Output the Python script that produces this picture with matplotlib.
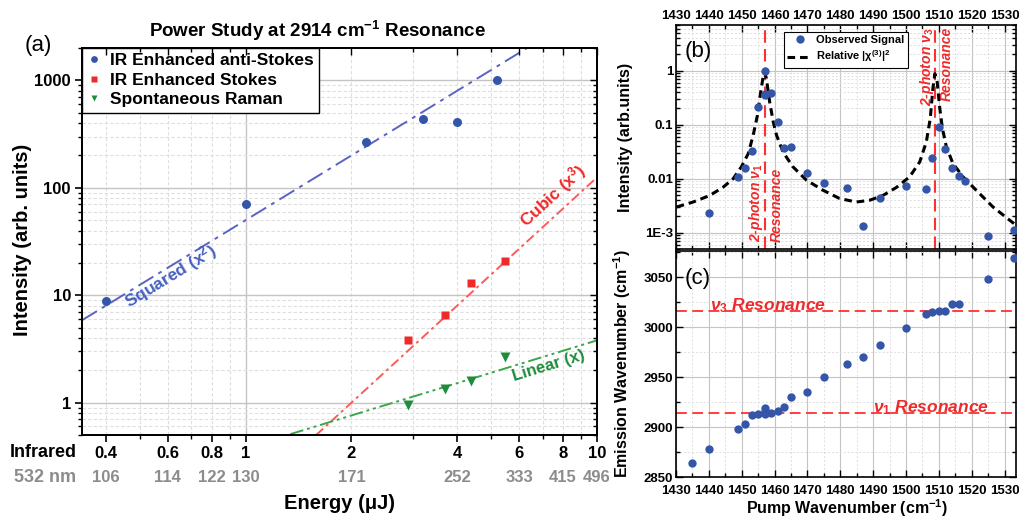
import numpy as np
import matplotlib
matplotlib.use('Agg')
import matplotlib.pyplot as plt
import matplotlib.transforms as mtransforms
from matplotlib.ticker import FixedLocator, NullFormatter, LogLocator, MultipleLocator

plt.rcParams['font.family'] = ['Liberation Sans', 'DejaVu Sans']
plt.rcParams['font.weight'] = 'bold'
plt.rcParams['mathtext.fontset'] = 'custom'
plt.rcParams['mathtext.rm'] = 'Liberation Sans:bold'
plt.rcParams['mathtext.it'] = 'Liberation Sans:italic:bold'
plt.rcParams['mathtext.bf'] = 'Liberation Sans:bold'
plt.rcParams['axes.linewidth'] = 1.2

# ---------------- data: panel (a) ----------------
energy_as = [0.40, 1.00, 2.20, 3.20, 4.00, 5.18]
int_as = [8.8, 70, 268, 435, 411, 1000]
energy_st = [2.90, 3.69, 4.39, 5.48]
int_st = [3.83, 6.6, 13.1, 20.9]
energy_sr = [2.90, 3.69, 4.39, 5.48]
int_sr = [0.95, 1.34, 1.60, 2.68]
fit_names = ['Squared (x$^2$)', 'Cubic (x$^3$)', 'Linear (x)']
fit_amp = [50.0, 0.125, 0.38]
fit_exp = [2, 3, 1]
ir_ticks = [0.4, 0.6, 0.8, 1, 2, 4, 6, 8, 10]
ir_labels = ['0.4', '0.6', '0.8', '1', '2', '4', '6', '8', '10']
nm_labels = ['106', '114', '122', '130', '171', '252', '333', '415', '496']
int_ticks = [1, 10, 100, 1000]
int_labels = ['1', '10', '100', '1000']

# ---------------- data: panel (b) ----------------
pump_b = [1440, 1449, 1451, 1453, 1455, 1457, 1457, 1457, 1459, 1461, 1463, 1465,
          1470, 1475, 1482, 1487, 1492, 1500, 1506, 1508, 1510, 1512, 1514, 1516,
          1518, 1525, 1533]
signal_b = [0.00232, 0.0106, 0.0161, 0.0328, 0.215, 1.0, 0.37, 0.354, 0.38, 0.11,
            0.0373, 0.0384, 0.0128, 0.0082, 0.00685, 0.00133, 0.00447, 0.00724,
            0.00646, 0.024, 0.089, 0.0352, 0.0161, 0.0114, 0.0092, 0.00088, 0.00114]
chi_pump = [1430.2, 1435.2, 1440.3, 1444.4, 1447.4, 1449.9, 1452.0, 1453.5, 1454.8,
            1455.8, 1456.7, 1457.0, 1457.5, 1458.5, 1459.6, 1460.6, 1462.6, 1465.6,
            1469.7, 1474.8, 1479.8, 1484.9, 1489.0, 1493.0, 1497.1, 1501.1, 1504.2,
            1506.2, 1507.4, 1508.2, 1508.8, 1509.5, 1510.3, 1511.1, 1512.3, 1514.3,
            1517.4, 1521.4, 1526.5, 1531.6, 1533.6]
chi_rel = [0.0030, 0.0037, 0.0049, 0.0070, 0.0100, 0.0166, 0.0292, 0.064, 0.150,
           0.41, 0.90, 0.93, 0.72, 0.266, 0.113, 0.064, 0.031, 0.0166, 0.0094,
           0.0061, 0.0043, 0.0037, 0.0040, 0.0049, 0.0069, 0.0108, 0.0205, 0.048,
           0.13, 0.47, 0.88, 0.62, 0.20, 0.085, 0.039, 0.0191, 0.0108, 0.0061,
           0.0030, 0.0017, 0.00137]
res_pump = [1457.0, 1508.8]
b_yticks = [1e-3, 1e-2, 1e-1, 1]
b_ylabels = ['1E-3', '0.01', '0.1', '1']

# ---------------- data: panel (c) ----------------
pump_c = [1435, 1440, 1449, 1451, 1453, 1455, 1457, 1457, 1457, 1459, 1461, 1463,
          1465, 1470, 1475, 1482, 1487, 1492, 1500, 1506, 1508, 1510, 1512, 1514,
          1516, 1525, 1533]
emission_c = [2864, 2878, 2898, 2903, 2912, 2913, 2913, 2916.5, 2919.5, 2914.5,
              2916.5, 2920, 2930.5, 2935, 2950.5, 2963, 2970, 2982, 2999, 3013.5,
              3015, 3016, 3016, 3023, 3023, 3048, 3069]
res_emission = [2914, 3016]

# ---------------- styling ----------------
BLUE = '#3556A8'
RED = '#EE2A2A'
GREEN = '#1E8C3A'
fit_line_colors = ['#5A62C4', '#FF5A5A', '#3AA64A']
fit_text_colors = ['#4560C0', '#F02828', '#1E8C3A']
fit_styles = [(0, (9, 3, 2, 3)), (0, (5, 2, 1.5, 2)), (0, (7, 2, 1.5, 2, 1.5, 2))]
GRIDMAJ = '#c4c4c4'
GRIDMIN = '#dedede'

fig = plt.figure(figsize=(10.19, 5.17), dpi=100)

# ======================= panel (a) =======================
axA = fig.add_axes([82 / 1019, 1 - 435 / 517, 515 / 1019, 387 / 517])
axA.set_xscale('log')
axA.set_yscale('log')
axA.set_xlim(0.342, 10)
axA.set_ylim(0.5, 2000)

# grid
xminor_grid = [0.4, 0.5, 0.6, 0.7, 0.8, 0.9, 2, 3, 4, 5, 6, 7, 8, 9]
for v in xminor_grid:
    axA.axvline(v, color=GRIDMIN, lw=0.8, ls=(0, (3, 2)), zorder=0)
axA.axvline(1, color=GRIDMAJ, lw=1.0, zorder=0)
for dec in [0.1, 1, 10, 100, 1000]:
    for k in range(2, 10):
        axA.axhline(k * dec, color=GRIDMIN, lw=0.8, ls=(0, (3, 2)), zorder=0)
for v in int_ticks:
    axA.axhline(v, color=GRIDMAJ, lw=1.0, zorder=0)

# fits
xx = np.geomspace(0.342, 10, 200)
fit_text_pos = [(0.61, 15.0), (7.5, 85), (7.3, 2.2)]
fit_fs = [12.5, 12.5, 12]
for i in range(3):
    yy = fit_amp[i] * xx ** fit_exp[i]
    axA.plot(xx, yy, color=fit_line_colors[i], lw=1.4, ls=fit_styles[i], zorder=2)
    p1 = axA.transData.transform((1.0, fit_amp[i]))
    p2 = axA.transData.transform((10.0, fit_amp[i] * 10 ** fit_exp[i]))
    ang = np.degrees(np.arctan2(p2[1] - p1[1], p2[0] - p1[0]))
    axA.text(fit_text_pos[i][0], fit_text_pos[i][1], fit_names[i], rotation=ang,
             rotation_mode='anchor', ha='center', va='center', color=fit_text_colors[i],
             fontsize=fit_fs[i], fontweight='bold', zorder=3)

axA.plot(energy_as, int_as, 'o', color=BLUE, ms=6.5, mec='none', zorder=4,
         label='IR Enhanced anti-Stokes')
axA.plot(energy_st, int_st, 's', color=RED, ms=5.5, mec='none', zorder=4,
         label='IR Enhanced Stokes')
axA.plot(energy_sr, int_sr, 'v', color=GREEN, ms=6.5, mec='none', zorder=4,
         label='Spontaneous Raman')

axA.set_xticks(ir_ticks, ir_labels)
axA.xaxis.set_minor_locator(FixedLocator([0.5, 0.7, 0.9, 3, 5, 7, 9]))
axA.xaxis.set_minor_formatter(NullFormatter())
axA.set_yticks(int_ticks, int_labels)
axA.yaxis.set_minor_locator(LogLocator(base=10, subs=np.arange(2, 10)))
axA.yaxis.set_minor_formatter(NullFormatter())
axA.tick_params(which='major', direction='out', length=5, width=1.2, labelsize=12, pad=3)
axA.tick_params(which='minor', direction='out', length=3, width=1.0)

# top / right ticks (inward)
axT = axA.twiny()
axT.set_xscale('log')
axT.set_xlim(axA.get_xlim())
axT.set_xticks(ir_ticks)
axT.xaxis.set_minor_locator(FixedLocator([0.5, 0.7, 0.9, 3, 5, 7, 9]))
axT.tick_params(which='both', direction='in', labeltop=False, width=1.0)
axT.tick_params(which='major', length=5)
axT.tick_params(which='minor', length=3)
axR = axA.twinx()
axR.set_yscale('log')
axR.set_ylim(axA.get_ylim())
axR.set_yticks(int_ticks)
axR.yaxis.set_minor_locator(LogLocator(base=10, subs=np.arange(2, 10)))
axR.tick_params(which='both', direction='in', labelright=False, width=1.0)
axR.tick_params(which='major', length=5)
axR.tick_params(which='minor', length=3)

# secondary (532 nm) label row
blend = mtransforms.blended_transform_factory(axA.transData, axA.transAxes)
for x, lab in zip(ir_ticks, nm_labels):
    axA.text(x, -0.111, lab, transform=blend, ha='center', va='center',
             color='#8c8c8c', fontsize=12, fontweight='bold')
axA.text(-0.076, -0.0465, 'Infrared', transform=axA.transAxes, ha='center', va='center',
         fontsize=13, fontweight='bold', color='black')
axA.text(-0.072, -0.111, '532 nm', transform=axA.transAxes, ha='center', va='center',
         fontsize=13, fontweight='bold', color='#8c8c8c')
axA.text(0.5, -0.177, 'Energy (\u03bcJ)', transform=axA.transAxes, ha='center',
         va='center', fontsize=14.5, fontweight='bold')
axA.text(-0.1146, 0.504, 'Intensity (arb. units)', transform=axA.transAxes, ha='center',
         va='center', rotation=90, fontsize=14.5, fontweight='bold')

leg = axA.legend(loc='upper left', bbox_to_anchor=(0.0, 1.0), borderaxespad=0.0,
                 fontsize=12.5, frameon=True, fancybox=False, edgecolor='black',
                 framealpha=1, handlelength=0.8, handletextpad=0.5, labelspacing=0.25,
                 borderpad=0.3, markerscale=0.75)
leg.get_frame().set_linewidth(1.0)
leg.set_zorder(10)

fig.text(317 / 1019, 1 - 31 / 517, 'Power Study at 2914 cm$^{-1}$ Resonance',
         ha='center', va='center', fontsize=13.5, fontweight='bold')
fig.text(38 / 1019, 1 - 45 / 517, '(a)', ha='center', va='center', fontsize=16,
         fontweight='normal')

# ======================= panel (b) =======================
axB = fig.add_axes([676 / 1019, 1 - 249 / 517, 340 / 1019, 224 / 517])
axB.set_yscale('log')
axB.set_xlim(1430, 1533.5)
axB.set_ylim(5e-4, 7)
axB.xaxis.set_major_locator(MultipleLocator(10))
axB.xaxis.set_minor_locator(MultipleLocator(5))
axB.set_yticks(b_yticks, b_ylabels)
axB.yaxis.set_minor_locator(LogLocator(base=10, subs=np.arange(2, 10)))
axB.yaxis.set_minor_formatter(NullFormatter())
axB.grid(which='major', color=GRIDMAJ, lw=0.8)
axB.grid(which='minor', color=GRIDMIN, lw=0.7, ls=(0, (2, 2)))
axB.set_axisbelow(True)
axB.tick_params(which='both', direction='in', top=True, right=True, bottom=True,
                labeltop=True, labelbottom=False, labelsize=9.5, width=1.0, pad=2)
axB.tick_params(which='major', length=5)
axB.tick_params(which='minor', length=3)

for r in res_pump:
    axB.axvline(r, color='#FF3030', lw=1.5, ls=(0, (6, 3)), zorder=2)
axB.plot(chi_pump, chi_rel, color='black', lw=2.2, ls=(0, (2.5, 1.6)), zorder=3,
         label='Relative |\u03c7$^{(3)}$|$^2$')
axB.plot(pump_b, signal_b, 'o', color=BLUE, ms=6, mec='none', zorder=4,
         label='Observed Signal')

blendB = mtransforms.blended_transform_factory(axB.transData, axB.transAxes)
res_txt = dict(rotation=90, ha='center', color=RED, fontsize=10, fontstyle='italic',
               fontweight='bold', transform=blendB)
axB.text(1454.5, 0.03, '2-photon $\\nu_1$', va='bottom', **res_txt)
axB.text(1460.6, 0.03, 'Resonance', va='bottom', **res_txt)
axB.text(1506.4, 0.99, '2-photon $\\nu_3$', va='top', **res_txt)
axB.text(1512.3, 0.99, 'Resonance', va='top', **res_txt)

hB, lB = axB.get_legend_handles_labels()
legB = axB.legend([hB[1], hB[0]], [lB[1], lB[0]], loc='upper left',
                  bbox_to_anchor=(0.318, 0.969), borderaxespad=0.0, fontsize=8,
                  frameon=True, fancybox=False, edgecolor='black', framealpha=1,
                  handlelength=2.2, handletextpad=0.4, labelspacing=0.3, borderpad=0.3)
legB.get_frame().set_linewidth(0.8)
axB.set_ylabel('Intensity (arb.units)', fontsize=11.5, fontweight='bold')
axB.yaxis.set_label_coords(-0.126, 0.5)
axB.text(0.065, 0.88, '(b)', transform=axB.transAxes, ha='center', va='center',
         fontsize=16, fontweight='normal')

# ======================= panel (c) =======================
axC = fig.add_axes([676 / 1019, 1 - 477 / 517, 340 / 1019, 226 / 517])
axC.set_xlim(1430, 1533.5)
axC.set_ylim(2850, 3076)
axC.xaxis.set_major_locator(MultipleLocator(10))
axC.xaxis.set_minor_locator(MultipleLocator(5))
axC.yaxis.set_major_locator(MultipleLocator(50))
axC.yaxis.set_minor_locator(MultipleLocator(25))
axC.grid(which='major', color=GRIDMAJ, lw=0.8)
axC.grid(which='minor', color=GRIDMIN, lw=0.7, ls=(0, (2, 2)))
axC.set_axisbelow(True)
axC.tick_params(which='both', direction='in', top=True, right=True, labelsize=9.5,
                width=1.0, pad=2)
axC.tick_params(axis='x', which='both', pad=6)
axC.tick_params(which='major', length=5)
axC.tick_params(which='minor', length=3)

for r in res_emission:
    axC.axhline(r, color='#FF3030', lw=1.3, ls=(0, (6, 3)), zorder=2)
axC.plot(pump_c, emission_c, 'o', color=BLUE, ms=6, mec='none', zorder=4)
axC.text(1440.5, res_emission[1] + 1, '$\\nu_3$ Resonance', color=RED, fontsize=12.5,
         fontweight='bold', fontstyle='italic', ha='left', va='baseline', zorder=5)
axC.text(1490.0, res_emission[0] + 1, '$\\nu_1$ Resonance', color=RED, fontsize=12.5,
         fontweight='bold', fontstyle='italic', ha='left', va='baseline', zorder=5)
axC.set_ylabel('Emission Wavenumber (cm$^{-1}$)', fontsize=11.5, fontweight='bold')
axC.yaxis.set_label_coords(-0.126, 0.5)
axC.set_xlabel('Pump Wavenumber (cm$^{-1}$)', fontsize=11.5, fontweight='bold')
axC.xaxis.set_label_coords(0.504, -0.088)
axC.text(0.065, 0.88, '(c)', transform=axC.transAxes, ha='center', va='center',
         fontsize=16, fontweight='normal')

fig.savefig('out.png', dpi=100)
